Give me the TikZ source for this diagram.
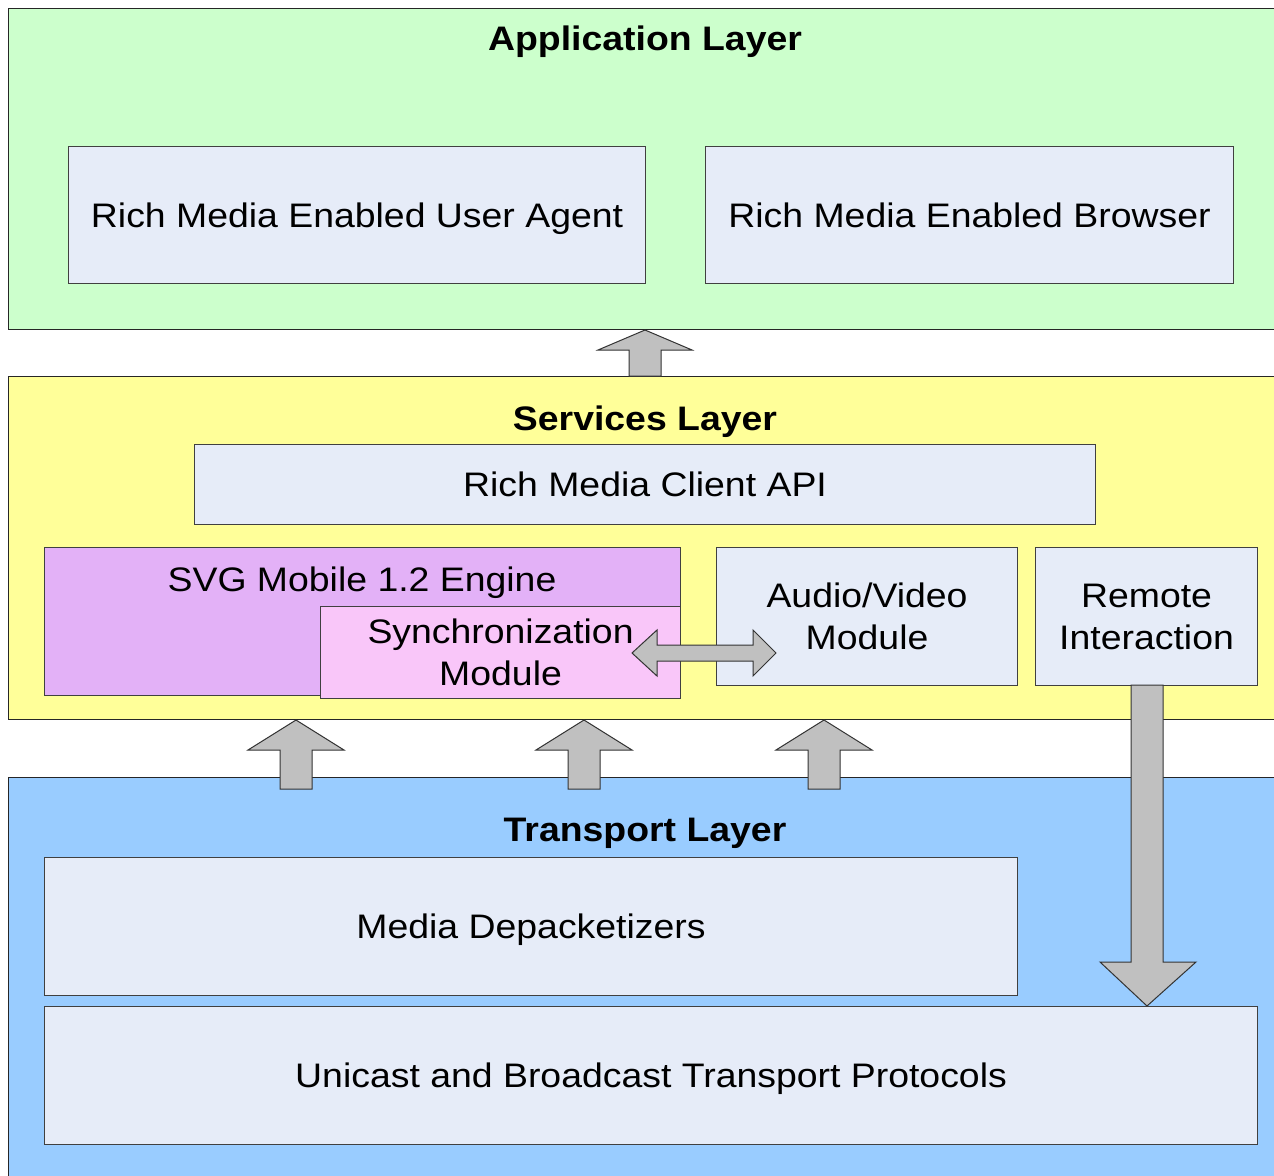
\documentclass[tikz,border=0pt]{standalone}
\usepackage{fontspec}
\setmainfont{Liberation Sans}[FakeStretch=1.1]
\definecolor{appgreen}{HTML}{CCFFCC}
\definecolor{servyellow}{HTML}{FFFF99}
\definecolor{transblue}{HTML}{99CCFF}
\definecolor{boxfill}{HTML}{E6ECF8}
\definecolor{svgpurple}{HTML}{E3B1F7}
\definecolor{syncpink}{HTML}{F9C6F9}
\definecolor{arrowgray}{HTML}{C0C0C0}
\begin{document}
\begin{tikzpicture}[x=1pt,y=-1pt,
  layer/.style={draw=black!85,line width=1.3pt,anchor=north west,inner sep=0pt},
  box/.style={draw=black!75,line width=1.1pt,fill=boxfill,anchor=north west,inner sep=0pt,
    font=\fontsize{34}{42}\selectfont,align=center},
  one/.style={text height=24pt,text depth=0pt},
  title/.style={font=\fontsize{34}{42}\selectfont\bfseries,anchor=base,inner sep=0pt},
  lbl/.style={font=\fontsize{34}{42}\selectfont,anchor=base,inner sep=0pt},
  blockarrow/.style={draw=black!80,line width=1pt,fill=arrowgray,line join=miter}]
\useasboundingbox (0,0) rectangle (1274,1175);
\clip (0,0) rectangle (1274,1175);
% layers
\node[layer,fill=appgreen,minimum width=1320pt,minimum height=321pt] (app) at (8,8) {};
\node[layer,fill=servyellow,minimum width=1320pt,minimum height=343pt] (serv) at (8,376) {};
\node[layer,fill=transblue,minimum width=1320pt,minimum height=420pt] (trans) at (8,777) {};
% titles
\node[title] (apptitle) at (645,50) {Application Layer};
\node[title] (servtitle) at (645,430) {Services Layer};
\node[title] (transtitle) at (645,841) {Transport Layer};
% application boxes
\node[box,one,minimum width=577pt,minimum height=137pt] (ua) at (68,146) {Rich Media Enabled User Agent};
\node[box,one,minimum width=528pt,minimum height=137pt] (br) at (705,146) {Rich Media Enabled Browser};
% services boxes
\node[box,one,minimum width=901pt,minimum height=80pt] (api) at (194,444) {Rich Media Client API};
\node[box,fill=svgpurple,minimum width=636pt,minimum height=148pt] (svg) at (44,547) {};
\node[lbl] (svgtitle) at (362,591) {SVG Mobile 1.2 Engine};
\node[box,fill=syncpink,minimum width=360pt,minimum height=92pt] (sync) at (320,606) {Synchronization\\Module};
\node[box,minimum width=301pt,minimum height=138pt] (av) at (716,547) {Audio/Video\\Module};
\node[box,minimum width=222pt,minimum height=138pt] (ri) at (1035,547) {Remote\\Interaction};
% transport boxes
\node[box,one,minimum width=973pt,minimum height=138pt] (md) at (44,857) {Media Depacketizers};
\node[box,one,minimum width=1213pt,minimum height=138pt] (uc) at (44,1006) {Unicast and Broadcast Transport Protocols};
% block arrows
\draw[blockarrow] (629,376) -- (629,350) -- (598,350) -- (645,330) -- (692,350) -- (661,350) -- (661,376) -- cycle;
\foreach \cx in {296,584,824}{
  \draw[blockarrow] (\cx-16,789) -- (\cx-16,750) -- (\cx-48,750) -- (\cx,720) -- (\cx+48,750) -- (\cx+16,750) -- (\cx+16,789) -- cycle;
}
\draw[blockarrow] (1131,685) -- (1131,962) -- (1100,962) -- (1147,1006) -- (1196,962) -- (1163,962) -- (1163,685) -- cycle;
\draw[blockarrow] (632,653) -- (657,630) -- (657,645) -- (753,645) -- (753,630) -- (776,653) -- (753,676) -- (753,661) -- (657,661) -- (657,676) -- cycle;
\end{tikzpicture}
\end{document}
